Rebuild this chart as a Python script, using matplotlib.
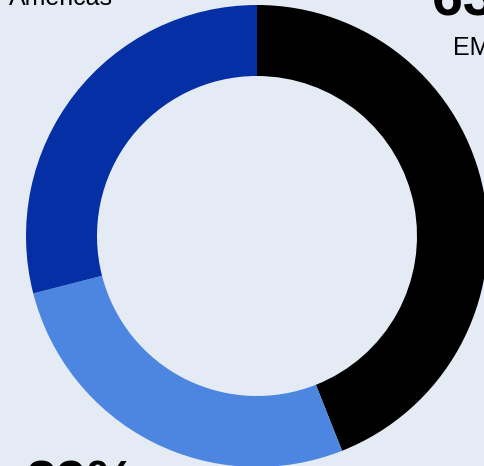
import matplotlib
matplotlib.use("Agg")
import matplotlib.pyplot as plt

# Regions and their share of the ring
regions = ["EMEA", "APAC", "Americas"]
shares = [44, 27, 29]
colors = ["#000000", "#4d86e0", "#0530a5"]

# Label texts as printed on the chart (big number + name)
label_numbers = ["63%", "29%", "29%"]

bg = "#e4ebf4"

fig = plt.figure(figsize=(4.85, 4.66), dpi=100)
fig.patch.set_facecolor(bg)
ax = fig.add_axes([0, 0, 1, 1])
ax.set_facecolor(bg)

# ring, drawn in pixel-like data coordinates
ax.pie(shares, colors=colors, startangle=90, counterclock=False,
       center=(257, 230), radius=231,
       wedgeprops=dict(width=71, linewidth=0))
ax.set_xlim(0, 485)
ax.set_ylim(0, 466)
ax.set_aspect("auto")
ax.axis("off")

font = "Liberation Sans"

# EMEA label, top right
ax.text(432, 451, label_numbers[0], fontsize=40, fontweight="bold",
        family=font, ha="left", va="baseline")
ax.text(453, 411, regions[0], fontsize=18, family=font,
        ha="left", va="baseline")

# Americas label, top left
ax.text(113, 461, regions[2], fontsize=18, family=font,
        ha="right", va="baseline")
ax.text(113, 501, label_numbers[2], fontsize=40, fontweight="bold",
        family=font, ha="right", va="baseline")

# APAC label, bottom left
ax.text(25, -34, label_numbers[1], fontsize=40, fontweight="bold",
        family=font, ha="left", va="baseline")
ax.text(25, -74, regions[1], fontsize=18, family=font,
        ha="left", va="baseline")

fig.savefig("out.png", dpi=100, facecolor=bg)
